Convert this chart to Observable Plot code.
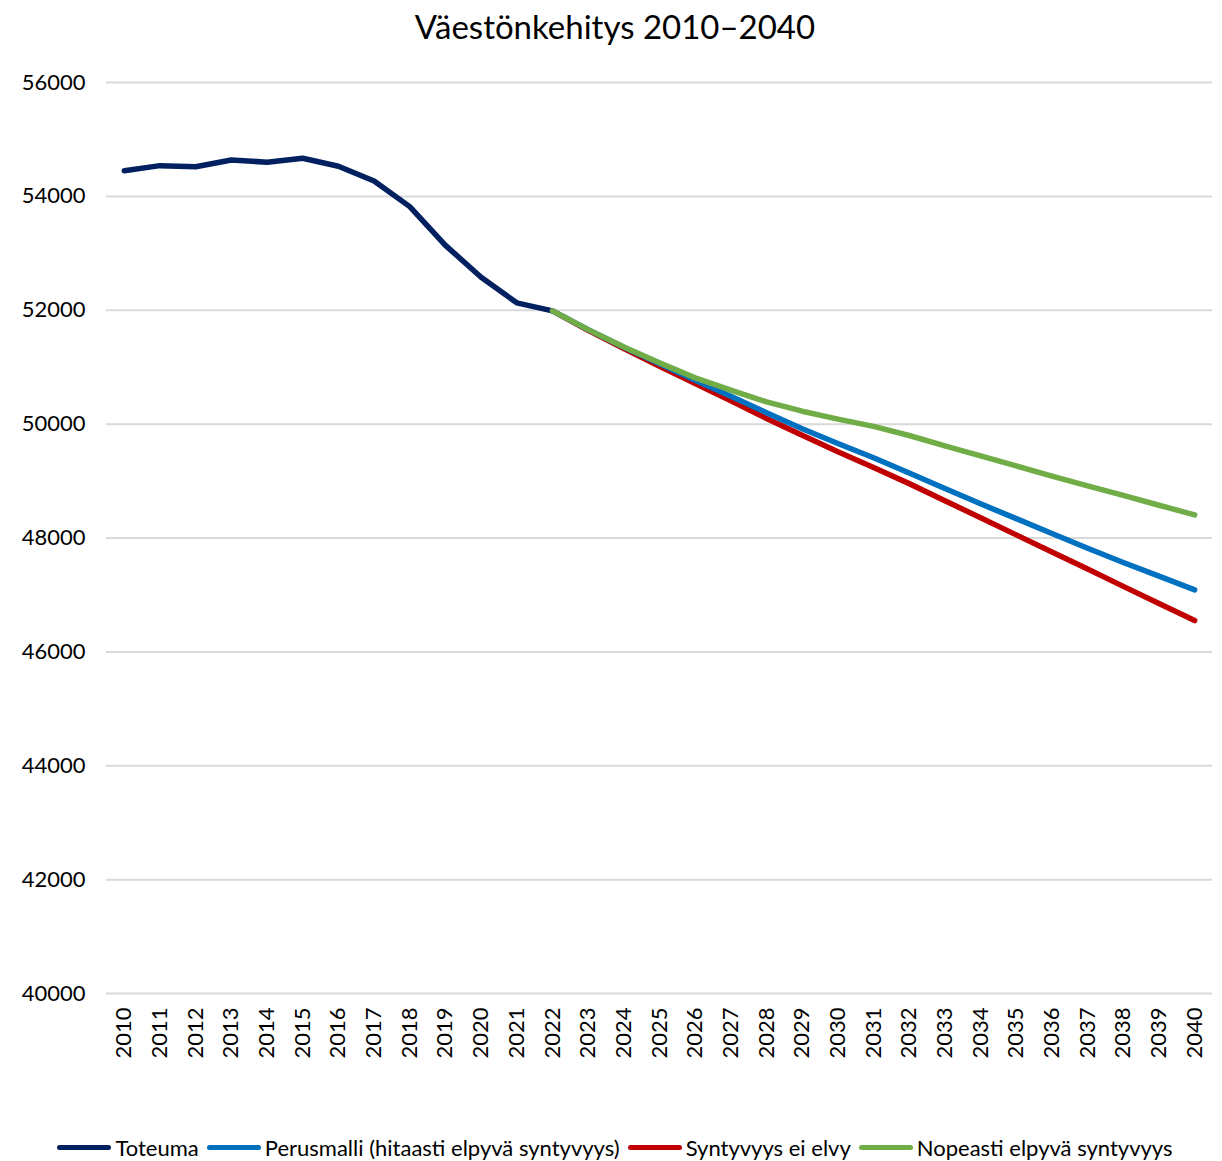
<!DOCTYPE html>
<html>
<head>
<meta charset="utf-8">
<script src="https://cdn.jsdelivr.net/npm/d3@7"></script>
<script src="https://cdn.jsdelivr.net/npm/@observablehq/plot@0.6"></script>
<style>
  body { margin: 0; background: #fff; font-family: Lato, "Open Sans", sans-serif; color: #000; }
  #title { height: 52px; line-height: 52px; text-align: center; font-size: 33px; padding-left: 8px; }
  #legend { display: flex; justify-content: center; align-items: center; font-size: 22px; margin-top: 42px; padding-left: 8px; }
  .item { display: flex; align-items: center; margin: 0 4px; }
  .sw { display: inline-block; width: 54px; height: 5px; border-radius: 3px; margin-right: 4px; }
</style>
</head>
<body>
<div id="title">Väestönkehitys 2010–2040</div>
<div id="chart"></div>
<div id="legend"></div>
<script>
const years = [2010,2011,2012,2013,2014,2015,2016,2017,2018,2019,2020,2021,2022,2023,2024,2025,2026,2027,2028,2029,2030,2031,2032,2033,2034,2035,2036,2037,2038,2039,2040];
const yTicks = [40000,42000,44000,46000,48000,50000,52000,54000,56000];

const toteumaYears = [2010,2011,2012,2013,2014,2015,2016,2017,2018,2019,2020,2021,2022];
const toteuma = [54450,54540,54520,54640,54600,54670,54530,54270,53820,53140,52580,52130,51990];

const projYears = [2022,2023,2024,2025,2026,2027,2028,2029,2030,2031,2032,2033,2034,2035,2036,2037,2038,2039,2040];
const perusmalli = [51990,51660,51350,51060,50770,50490,50200,49920,49660,49410,49140,48870,48600,48340,48080,47820,47570,47330,47090];
const eiElvy =     [51990,51649,51327,51017,50713,50409,50099,49806,49514,49240,48955,48655,48355,48055,47755,47455,47150,46850,46550];
const nopeasti =   [51990,51660,51356,51076,50812,50596,50391,50227,50087,49960,49800,49619,49443,49267,49085,48915,48750,48575,48405];

const seriesNames = ["Toteuma","Perusmalli (hitaasti elpyvä syntyvyys)","Syntyvyys ei elvy","Nopeasti elpyvä syntyvyys"];
const seriesColors = ["#002060","#0070C0","#C00000","#70AD47"];

const rows = (xs, vs, s) => xs.map((x, i) => ({year: x, value: vs[i], series: s}));
const dToteuma = rows(toteumaYears, toteuma, seriesNames[0]);
const dPerus = rows(projYears, perusmalli, seriesNames[1]);
const dEi = rows(projYears, eiElvy, seriesNames[2]);
const dNope = rows(projYears, nopeasti, seriesNames[3]);

const lineOpts = (c) => ({x: "year", y: "value", stroke: c, strokeWidth: 5.5, strokeLinecap: "round", strokeLinejoin: "round"});

const chart = Plot.plot({
  width: 1222,
  height: 1040,
  marginLeft: 106,
  marginRight: 10,
  marginTop: 30,
  marginBottom: 99,
  style: {fontFamily: "Lato, 'Open Sans', sans-serif", color: "#000", background: "#fff"},
  x: {type: "point", domain: years, padding: 0.5, round: false},
  y: {domain: [40000, 56000]},
  marks: [
    Plot.ruleY(yTicks, {stroke: "#d9d9d9", strokeWidth: 2}),
    Plot.axisY({ticks: yTicks, tickSize: 0, tickPadding: 21, fontSize: 22, tickFormat: d => String(d), label: null}),
    Plot.axisX({tickRotate: -90, tickSize: 0, tickPadding: 14, fontSize: 22, tickFormat: d => String(d), label: null}),
    Plot.line(dToteuma, lineOpts(seriesColors[0])),
    Plot.line(dEi, lineOpts(seriesColors[2])),
    Plot.line(dPerus, lineOpts(seriesColors[1])),
    Plot.line(dNope, lineOpts(seriesColors[3]))
  ]
});
document.getElementById("chart").appendChild(chart);

const legend = document.getElementById("legend");
seriesNames.forEach((n, i) => {
  const it = document.createElement("div");
  it.className = "item";
  const sw = document.createElement("span");
  sw.className = "sw";
  sw.style.background = seriesColors[i];
  const t = document.createElement("span");
  t.textContent = n;
  it.appendChild(sw);
  it.appendChild(t);
  legend.appendChild(it);
});
</script>
</body>
</html>
